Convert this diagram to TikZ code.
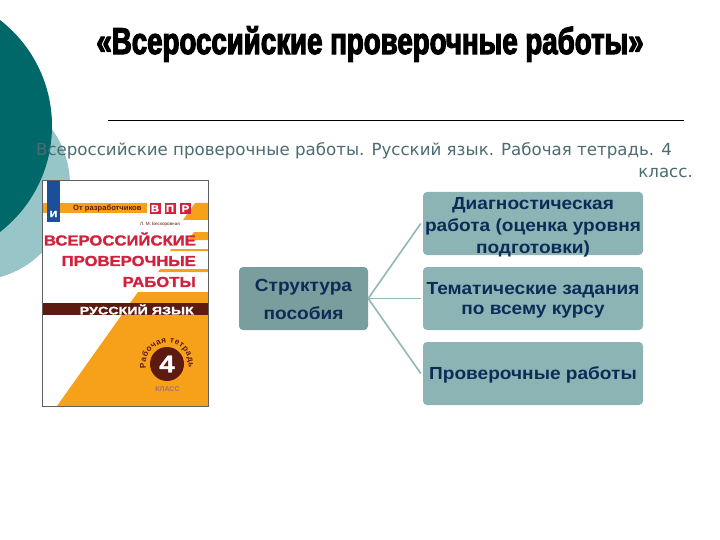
\documentclass[tikz,border=0pt]{standalone}
\usepackage{fontspec}
\setmainfont{Liberation Sans}
\newfontfamily\titlefont[FakeStretch=0.74,FakeBold=3]{Liberation Sans Bold}
\newfontfamily\bookfont[FakeBold=1.5,FakeStretch=1.15]{Liberation Sans Bold}
\newfontfamily\bandfont[FakeBold=1.5,FakeStretch=1.3]{Liberation Sans Bold}
\newfontfamily\boxfont[FakeStretch=1.09]{Liberation Sans Bold}
\newfontfamily\subfont{DejaVu Sans}
\usetikzlibrary{decorations.text}
\definecolor{darkteal}{HTML}{006868}
\definecolor{lightteal}{HTML}{98C6C8}
\definecolor{linkcol}{HTML}{8FB8B6}
\definecolor{boxa}{HTML}{8CB4B4}
\definecolor{boxb}{HTML}{7A9E9E}
\definecolor{navy}{HTML}{0C2C58}
\definecolor{subcol}{HTML}{4A6C72}
\definecolor{orangeb}{HTML}{F7A11A}
\definecolor{brownb}{HTML}{5C1A10}
\definecolor{redb}{HTML}{D2213C}
\definecolor{blueb}{HTML}{1C4E9A}
\tikzset{
  rbox/.style={rounded corners=4pt,minimum height=63pt,inner sep=0pt},
  leaf/.style={rbox,fill=boxa,minimum width=220pt},
  root/.style={rbox,fill=boxb,minimum width=129pt},
  boxtext/.style={inner sep=0pt,align=center,text=navy},
  link/.style={draw=linkcol,line width=1.6pt},
  vpr/.style={fill=redb,text=white,minimum width=11pt,minimum height=11pt,inner sep=0pt,font=\bookfont\fontsize{10}{10}\selectfont},
  covertext/.style={text=redb,font=\bookfont\fontsize{14.5}{14.5}\selectfont,inner sep=0pt,anchor=east},
  subline/.style={inner sep=0pt,anchor=east,text=subcol,font=\subfont\fontsize{16.65}{18}\selectfont}
}
\begin{document}
\begin{tikzpicture}[x=1pt,y=-1pt]
\useasboundingbox (0,0) rectangle (720,540);
\fill[white] (0,0) rectangle (720,540);
% background circles
\begin{scope}
\clip (0,0) rectangle (720,540);
\fill[lightteal] (-25.5,185) circle[radius=95.5];
\fill[darkteal] (-82,126) circle[radius=134];
\end{scope}
% title
\node[inner sep=0pt,font=\titlefont\fontsize{37.4}{42}\selectfont] (title) at (370,44) {«Всероссийские проверочные работы»};
\coordinate (ruleA) at (108,120);
\coordinate (ruleB) at (684,120);
\draw[black,line width=0.8pt] (ruleA) -- (ruleB);
% subtitle
\node[subline] (subA) at (672,151) {Всероссийские проверочные работы. Русский язык. Рабочая тетрадь. 4};
\node[subline] (subB) at (693,173) {класс.};
% book cover
\fill[white] (42,180) rectangle (208,406);
\fill[orangeb] (57,406) -- (138,292) -- (208,292) -- (208,406) -- cycle;
\fill[orangeb] (43,203) rectangle (147,213);
\fill[orangeb] (195,203) -- (208,203) -- (208,220) -- (183,220) -- cycle;
\fill[orangeb] (194,232) -- (208,232) -- (208,240) -- (188,240) -- cycle;
\fill[orangeb] (171,249) -- (208,249) -- (208,251) -- (170,251) -- cycle;
\fill[orangeb] (160,269) -- (208,269) -- (208,272) -- (158,272) -- cycle;
\fill[brownb] (43,303) rectangle (208,315);
\fill[blueb] (47,180) rectangle (60,222);
\node[text=white,inner sep=0pt,font=\bookfont\fontsize{9}{9}\selectfont] (logo) at (53.5,214) {И};
\node[inner sep=0pt,text=brownb,font=\bfseries\fontsize{7.6}{8}\selectfont,anchor=west] (from) at (73,208.5) {От разработчиков};
\node[vpr] (v1) at (155,208.5) {В};
\node[vpr] (v2) at (170,208.5) {П};
\node[vpr] (v3) at (185.5,208.5) {Р};
\node[inner sep=0pt,text=brownb,font=\fontsize{4.6}{5}\selectfont] (auth) at (160,224) {Л. М. Бескоровная};
\node[covertext] (c1) at (196,239) {ВСЕРОССИЙСКИЕ};
\node[covertext] (c2) at (196,261) {ПРОВЕРОЧНЫЕ};
\node[covertext] (c3) at (196,282) {РАБОТЫ};
\node[inner sep=0pt,text=white,anchor=east,font=\bandfont\fontsize{11}{12}\selectfont] (subj) at (194,309.5) {РУССКИЙ ЯЗЫК};
\fill[brownb] (167,364) circle[radius=17];
\node[inner sep=0pt,text=white,font=\bookfont\fontsize{24}{24}\selectfont] (four) at (167,364) {4};
\path[decorate,decoration={text along path,text align=fit to path,
  text={|\bfseries\fontsize{8.2}{9}\selectfont\color{brownb}|Рабочая тетрадь}}]
  (146,368) arc[start angle=170,end angle=370,radius=21.5];
\node[inner sep=0pt,text=brownb!60!white,font=\bfseries\fontsize{7}{7}\selectfont] (cl) at (167.5,389) {КЛАСС};
\draw[gray!75!black,line width=0.8pt] (42,180) rectangle (208,406);
% diagram
\node[root] (r) at (303.5,298.5) {};
\node[leaf] (a) at (533,223.5) {};
\node[leaf] (b) at (533,298.5) {};
\node[leaf] (c) at (533,373.5) {};
\node[boxtext,font=\boxfont\fontsize{17.5}{28}\selectfont] (rt) at ([yshift=-1pt]r.center) {Структура\\пособия};
\node[boxtext,font=\boxfont\fontsize{17.5}{22}\selectfont] (at) at ([yshift=-4pt]a.center) {Диагностическая\\работа (оценка уровня\\подготовки)};
\node[boxtext,font=\boxfont\fontsize{17.5}{20}\selectfont] (bt) at ([yshift=-2pt]b.center) {Тематические задания\\по всему курсу};
\node[boxtext,font=\boxfont\fontsize{17.5}{20}\selectfont] (ct) at ([yshift=-1pt]c.center) {Проверочные работы};
\draw[link] (r.east) -- ([xshift=-2pt]a.west);
\draw[link] (r.east) -- ([xshift=-2pt]b.west);
\draw[link] (r.east) -- ([xshift=-2pt]c.west);
\end{tikzpicture}
\end{document}
